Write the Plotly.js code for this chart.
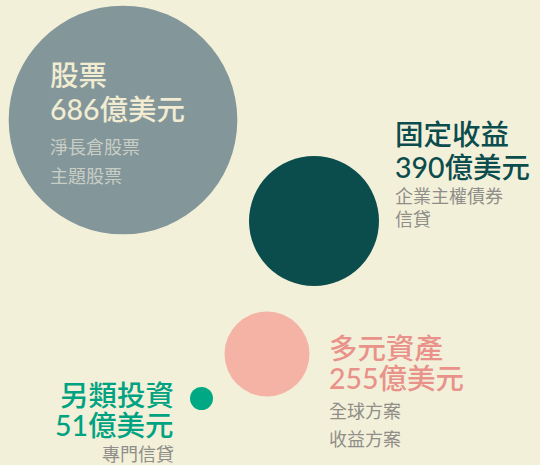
<!DOCTYPE html>
<html><head><meta charset="utf-8">
<script src="https://cdn.plot.ly/plotly-3.0.1.min.js"></script>
<style>html,body{margin:0;padding:0;background:#f3f0da;}#chart{width:540px;height:465px;}</style>
</head><body><div id="chart"></div>
<script>
// Data
const categories = ['股票', '固定收益', '多元資產', '另類投資'];
const values = [686, 390, 255, 51];
const unit = '億美元';
const subItems = [['淨長倉股票', '主題股票'], ['企業主權債券', '信貸'], ['全球方案', '收益方案'], ['專門信貸']];

// Layout (positions in pixel space)
const bubbleX = [123, 314, 267, 201.5];
const bubbleY = [120, 221, 354, 398.5];
const labelX = [48, 393, 327, 176];
const labelAnchor = ['left', 'left', 'left', 'right'];
const titleY = [75, 133.5, 347.5, 394.5];
const valueY = [109, 166.5, 378, 425];
const subY = [[146, 175], [194.5, 218], [410, 438], [453]];
const bubbleColors = ['#83969a', '#0b4c4d', '#f5b3a6', '#00a884'];
const titleColors = ['#f1ecd2', '#0b4c4d', '#e9928a', '#00a381'];
const subColors = ['#c9cec5', '#8f8e88', '#8f8e88', '#8f8e88'];

const titleFam = 'Lato, "Noto Sans CJK TC", sans-serif';
const subFam = '"Noto Sans CJK TC", "Noto Sans", sans-serif';
const annotations = [];
categories.forEach((c, i) => {
  annotations.push({x: labelX[i], y: titleY[i], xref: 'x', yref: 'y', text: c, showarrow: false,
    xanchor: labelAnchor[i], yanchor: 'middle', font: {family: titleFam, size: 28.5, color: titleColors[i], weight: 500}});
  annotations.push({x: labelX[i], y: valueY[i], xref: 'x', yref: 'y', text: values[i] + unit, showarrow: false,
    xanchor: labelAnchor[i], yanchor: 'middle', font: {family: titleFam, size: 28.5, color: titleColors[i], weight: 500}});
  subItems[i].forEach((s, j) => {
    annotations.push({x: labelX[i], y: subY[i][j], xref: 'x', yref: 'y', text: s, showarrow: false,
      xanchor: labelAnchor[i], yanchor: 'middle', font: {family: subFam, size: 18, color: subColors[i], weight: 400}});
  });
});

const trace = {
  type: 'scatter', mode: 'markers', x: bubbleX, y: bubbleY, text: categories,
  hoverinfo: 'text',
  marker: {size: values, sizemode: 'diameter', sizeref: 3.0, sizemin: 11.5, color: bubbleColors, opacity: 1, line: {width: 0}}
};

const layout = {
  width: 540, height: 465, margin: {l: 0, r: 0, t: 0, b: 0},
  paper_bgcolor: '#f3f0da', plot_bgcolor: '#f3f0da',
  xaxis: {range: [0, 540], visible: false, fixedrange: true},
  yaxis: {range: [465, 0], visible: false, fixedrange: true},
  showlegend: false, annotations: annotations
};
Plotly.newPlot('chart', [trace], layout, {displayModeBar: false, staticPlot: true});
</script></body></html>
